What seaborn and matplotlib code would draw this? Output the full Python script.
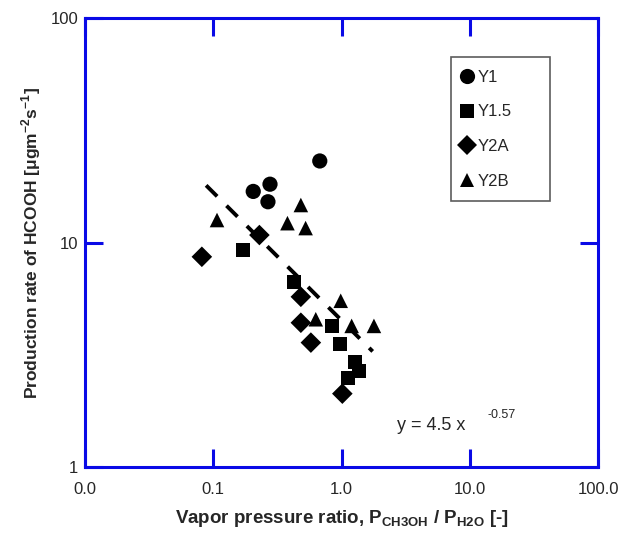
import numpy as np
import pandas as pd
import matplotlib.pyplot as plt
import seaborn as sns
from matplotlib.ticker import NullLocator

# vapor pressure ratio (x) and HCOOH production rate (y) for each sample
y1_x = [0.205, 0.277, 0.267, 0.677]
y1_y = [16.9, 18.2, 15.2, 23.1]
y15_x = [0.170, 0.428, 0.848, 0.968, 1.27, 1.37, 1.12]
y15_y = [9.26, 6.64, 4.25, 3.52, 2.94, 2.68, 2.49]
y2a_x = [0.0815, 0.229, 0.482, 0.482, 0.577, 1.015]
y2a_y = [8.64, 10.8, 5.73, 4.39, 3.58, 2.12]
y2b_x = [0.107, 0.379, 0.482, 0.525, 0.986, 0.630, 1.20, 1.79]
y2b_y = [12.6, 12.2, 14.7, 11.6, 5.5, 4.55, 4.25, 4.25]

series = ['Y1', 'Y1.5', 'Y2A', 'Y2B']
markers = {'Y1': 'o', 'Y1.5': 's', 'Y2A': 'D', 'Y2B': '^'}
sizes = {'Y1': 120, 'Y1.5': 100, 'Y2A': 110, 'Y2B': 110}

# power-law fit shown on the chart: y = 4.5 x^-0.57
fit_a, fit_b = 4.5, -0.57
fit_lo, fit_hi = 0.088, 1.75

x_ticks = [0.01, 0.1, 1, 10, 100]
x_labels = ['0.0', '0.1', '1.0', '10.0', '100.0']
y_ticks = [1, 10, 100]
y_labels = ['1', '10', '100']

df = pd.concat([
    pd.DataFrame({'ratio': xs, 'rate': ys, 'series': name})
    for name, xs, ys in zip(series, [y1_x, y15_x, y2a_x, y2b_x], [y1_y, y15_y, y2a_y, y2b_y])
])

sns.set_style('ticks')
plt.rcParams['font.family'] = ['Liberation Sans', 'DejaVu Sans']
plt.rcParams['mathtext.fontset'] = 'custom'
plt.rcParams['mathtext.rm'] = 'Liberation Sans'
plt.rcParams['mathtext.bf'] = 'Liberation Sans:bold'

blue = '#0a0ae6'
fig = plt.figure(figsize=(6.19, 5.36), dpi=100)
ax = fig.add_axes([0.1373, 0.129, 0.8288, 0.837])
ax.set(xscale='log', yscale='log')

fit_x = np.geomspace(fit_lo, fit_hi, 40)
sns.lineplot(x=fit_x, y=fit_a * fit_x ** fit_b, ax=ax, color='black', linewidth=2.8,
             linestyle=(0, (4.0, 3.4)), zorder=1)

sns.scatterplot(data=df, x='ratio', y='rate', hue='series', style='series', size='series',
                hue_order=series, style_order=series, size_order=series,
                palette={s: 'black' for s in series}, markers=markers, sizes=sizes,
                linewidth=0, ax=ax, zorder=2)

ax.set_xlim(0.01, 100)
ax.set_ylim(1, 100)
ax.set_xticks(x_ticks, labels=x_labels)
ax.set_yticks(y_ticks, labels=y_labels)
ax.xaxis.set_minor_locator(NullLocator())
ax.yaxis.set_minor_locator(NullLocator())
ax.tick_params(direction='in', length=13, width=2.2, color=blue, labelsize=12,
               top=True, right=True, labeltop=False, labelright=False)
ax.tick_params(axis='x', pad=11)
ax.tick_params(axis='y', pad=5)
for sp in ax.spines.values():
    sp.set_color(blue)
    sp.set_linewidth(2.2)

ax.set_xlabel(r'Vapor pressure ratio, P$_{\mathbf{CH3OH}}$ / P$_{\mathbf{H2O}}$ [-]',
              fontsize=13.5, fontweight='bold', labelpad=8)
ax.set_ylabel(r'Production rate of HCOOH [μgm$^{\mathbf{-2}}$s$^{\mathbf{-1}}$]',
              fontsize=12.5, fontweight='bold', labelpad=5)

ax.text(0.608, 0.073, 'y = 4.5 x', transform=ax.transAxes,
        fontsize=13, ha='left', va='bottom')
ax.text(0.785, 0.103, '-0.57', transform=ax.transAxes,
        fontsize=9, ha='left', va='bottom')

handles, labels = ax.get_legend_handles_labels()
keep = [(h, l) for h, l in zip(handles, labels) if l in series]
leg = ax.legend([h for h, _ in keep], [l for _, l in keep],
                loc='upper left', bbox_to_anchor=(0.713, 0.601, 0.193, 0.312), mode='expand',
                frameon=True, fancybox=False, edgecolor='#333333', fontsize=12,
                handlelength=0.5, handletextpad=0.35, borderpad=0.75, labelspacing=1.18,
                borderaxespad=0)
leg.get_frame().set_linewidth(1.2)

fig.savefig('out.png', dpi=100)
